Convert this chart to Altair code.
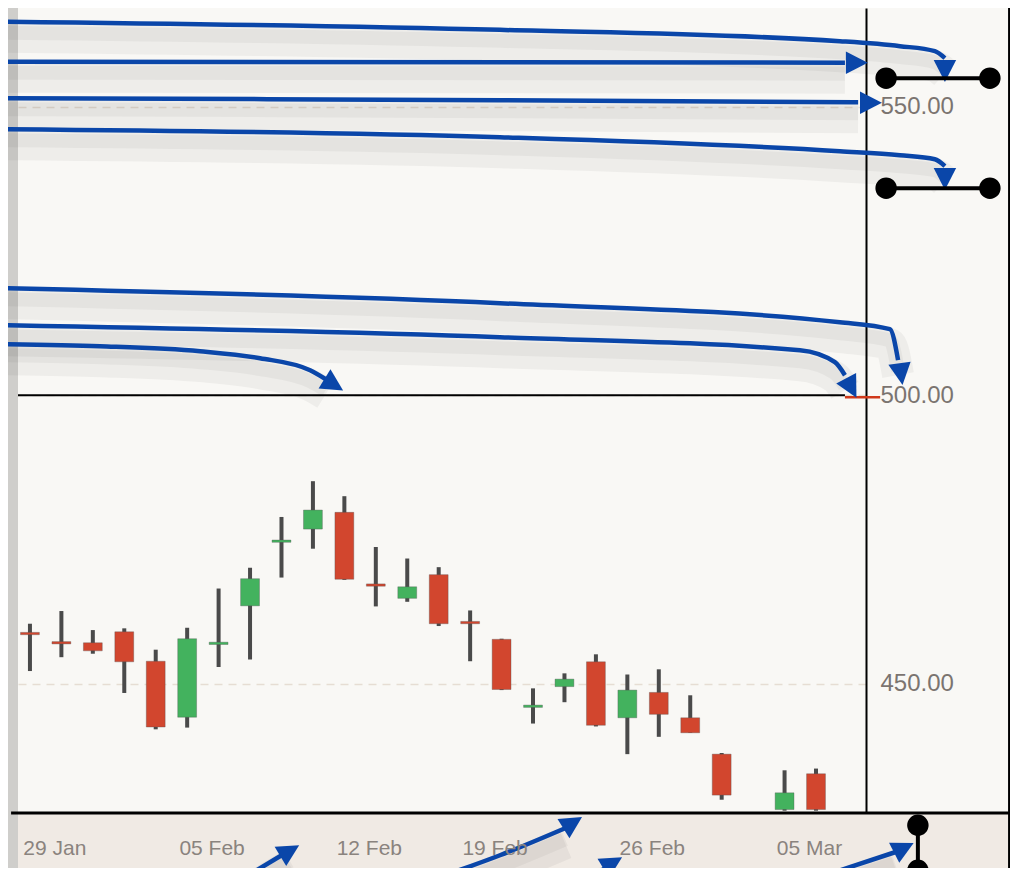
import altair as alt
import pandas as pd

# ---------------- data ----------------
days = ["26 Jan", "29 Jan", "30 Jan", "31 Jan", "01 Feb", "02 Feb", "05 Feb", "06 Feb",
        "07 Feb", "08 Feb", "09 Feb", "12 Feb", "13 Feb", "14 Feb", "15 Feb", "19 Feb",
        "20 Feb", "21 Feb", "22 Feb", "23 Feb", "26 Feb", "27 Feb", "28 Feb", "01 Mar",
        "02 Mar", "05 Mar"]
opens = [458.9, 457.3, 457.1, 459.0, 453.9, 444.2, 456.8, 463.5, 474.5, 476.8, 479.7, 467.3,
         464.8, 468.9, 460.8, 457.7, 445.9, 449.5, 453.8, 444.1, 448.5, 444.1, 437.8, None,
         428.2, 434.4]
closes = [458.5, 456.9, 455.7, 453.8, 442.5, 457.8, 457.2, 468.2, 474.9, 480.1, 468.1, 466.9,
          466.8, 460.4, 460.4, 449.0, 446.3, 450.8, 442.8, 448.9, 444.7, 441.5, 430.7, None,
          431.1, 428.2]
highs = [460.4, 462.6, 459.3, 459.6, 455.9, 459.7, 466.5, 470.1, 478.9, 485.1, 482.5, 473.7,
         471.7, 470.2, 462.7, 457.8, 449.2, 451.8, 455.1, 451.6, 452.5, 448.0, 438.0, None,
         435.0, 435.3]
lows = [452.2, 454.6, 455.2, 448.4, 442.1, 442.4, 452.9, 454.2, 468.4, 473.4, 468.0, 463.4,
        464.2, 460.0, 453.9, 448.9, 443.1, 446.8, 442.6, 437.8, 440.8, 441.5, 429.9, None,
        428.0, 428.0]

label_days = ["29 Jan", "05 Feb", "12 Feb", "19 Feb", "26 Feb", "05 Mar"]
price_ticks = [450, 500, 550]
ref_price = 500

# annotation arrows (trading-day index, price)
path_id = ["A"] * 6 + ["B"] * 2 + ["C"] * 3 + ["D"] * 6 + ["E"] * 5 + ["F"] * 5 + ["G"] * 6 + \
          ["H"] * 2 + ["I"] * 3 + ["J"] * 2 + ["K"] * 2
path_x = [-0.70, 14.95, 25.76, 27.67, 28.78, 29.10,
          -0.70, 25.92,
          -0.70, 14.95, 26.34,
          -0.70, 14.95, 25.76, 27.67, 28.78, 29.10,
          -0.70, 14.95, 25.76, 27.35, 27.61,
          -0.70, 14.95, 24.49, 25.60, 25.92,
          -0.70, 2.23, 5.41, 7.32, 8.91, 9.41,
          6.68, 8.27,
          12.72, 14.95, 17.02,
          17.65, 18.45,
          24.81, 27.51]
path_y = [564.73, 563.31, 561.35, 560.49, 559.62, 558.41,
          557.80, 557.63,
          551.47, 551.13, 550.78,
          546.10, 544.71, 542.29, 541.59, 540.90, 539.69,
          518.54, 515.94, 512.65, 511.44, 506.07,
          512.13, 510.05, 507.80, 505.72, 503.47,
          508.84, 508.49, 507.63, 506.41, 504.33, 502.77,
          415.94, 421.14,
          415.94, 420.28, 424.96,
          415.94, 418.54,
          415.94, 420.80]
head_x = [29.10, 26.27, 26.72, 29.10, 27.70, 26.11, 9.64, 8.24, 17.24, 18.51, 27.77]
head_y = [556.33, 557.63, 550.69, 537.61, 503.81, 501.39, 501.91, 420.97, 425.82, 418.89, 421.49]
head_angle = [180, 90, 90, 180, 172, 152, 122, 59, 58, 59, 63]

# dumbbell markers
bell_x1 = [27.23, 27.23, 28.24]
bell_x2 = [30.53, 30.53, 28.24]
bell_y1 = [554.94, 535.88, 425.48]
bell_y2 = [554.94, 535.88, 417.68]

# ---------------- tables ----------------
df = pd.DataFrame({"i": list(range(len(days))), "day": days, "open": opens,
                   "close": closes, "high": highs, "low": lows}).dropna()
df["dir"] = ["up" if c >= o else "down" for o, c in zip(df["open"], df["close"])]

paths = pd.DataFrame({"id": path_id, "x": path_x, "y": path_y})
paths["order"] = list(range(len(paths)))
heads = pd.DataFrame({"x": head_x, "y": head_y, "angle": head_angle})
bells = pd.DataFrame({"x": bell_x1, "x2": bell_x2, "y": bell_y1, "y2": bell_y2})
ends = pd.concat([pd.DataFrame({"x": bell_x1, "y": bell_y1}),
                  pd.DataFrame({"x": bell_x2, "y": bell_y2})])

X_DOM = [-0.38, 26.59]
Y_DOM = [427.6, 567.1]
label_idx = [days.index(d) for d in label_days]
label_expr = "[" + ",".join("'%s'" % d for d in days) + "][datum.value]"

xscale = alt.Scale(domain=X_DOM, nice=False, zero=False)
yscale = alt.Scale(domain=Y_DOM, nice=False, zero=False)
xaxis = alt.Axis(values=label_idx, labelExpr=label_expr, title=None, domain=False, ticks=False,
                 grid=False, labelFontSize=21, labelColor="#8a837e", labelFont="Liberation Sans",
                 labelBaseline="middle", labelPadding=35, labelOffset=-7, zindex=1)
yaxis = alt.Axis(orient="right", values=price_ticks, format=".2f", title=None, ticks=False,
                 domainColor="#000000", domainWidth=2, labelFontSize=24, labelColor="#7b7470",
                 labelFont="Liberation Sans", labelPadding=14, grid=True, gridColor="#e6ddd3",
                 gridDash=[8, 6], gridWidth=1.5, zindex=0)


def X(f):
    return alt.X(f, type="quantitative", scale=xscale, axis=xaxis)


def Y(f):
    return alt.Y(f, type="quantitative", scale=yscale, axis=yaxis)


frame = pd.DataFrame({"x": [-0.70], "x2": [31.2], "y": [Y_DOM[0]], "y2": [412.0]})
band = alt.Chart(frame).mark_rect(color="#f0eae4", clip=False).encode(
    x=X("x"), x2="x2", y=Y("y"), y2="y2")
strip = alt.Chart(pd.DataFrame({"x": [-0.70], "x2": [X_DOM[0]], "y": [Y_DOM[1]], "y2": [412.0]})
                  ).mark_rect(color="#cfcecb", clip=False).encode(x=X("x"), x2="x2", y=Y("y"), y2="y2")

shadow_wide = alt.Chart(paths).mark_line(color="#000000", opacity=0.045, strokeWidth=32,
                                         interpolate="monotone", yOffset=15, clip=False).encode(
    x=X("x"), y=Y("y"), detail="id:N", order="order:Q")
shadow_core = alt.Chart(paths).mark_line(color="#000000", opacity=0.04, strokeWidth=14,
                                         interpolate="monotone", yOffset=11, clip=False).encode(
    x=X("x"), y=Y("y"), detail="id:N", order="order:Q")

ref = pd.DataFrame({"x": [X_DOM[0]], "x2": [25.92], "y": [ref_price]})
ref_rule = alt.Chart(ref).mark_rule(color="#000000", strokeWidth=2).encode(
    x=X("x"), x2="x2", y=Y("y"))
ref_tail = alt.Chart(pd.DataFrame({"x": [25.92], "x2": [27.04], "y": [ref_price - 0.35]})
                     ).mark_rule(color="#d0391b", strokeWidth=2.5, clip=False).encode(
    x=X("x"), x2="x2", y=Y("y"))

base = alt.Chart(df)
wicks = base.mark_rule(color="#4a4a4a", strokeWidth=4).encode(x=X("i"), y=Y("low"), y2="high")
bodies = base.transform_calculate(xl="datum.i - 0.3", xr="datum.i + 0.3").mark_rect(
    stroke="#555555", strokeWidth=0.8, strokeOpacity=0.45).encode(
    x=X("xl"), x2="xr", y=Y("open"), y2="close",
    color=alt.Color("dir:N", scale=alt.Scale(domain=["up", "down"], range=["#43b25e", "#d2462e"]),
                    legend=None))

arrows = alt.Chart(paths).mark_line(color="#0a46a9", strokeWidth=4.5, interpolate="monotone",
                                    clip=False).encode(
    x=X("x"), y=Y("y"), detail="id:N", order="order:Q")
arrowheads = alt.Chart(heads).mark_point(shape="M0,-1L0.95,0.85L-0.95,0.85Z", filled=True,
                                         size=560, opacity=1, color="#0a46a9", clip=False).encode(
    x=X("x"), y=Y("y"), angle=alt.Angle("angle:Q", scale=None))

bell_lines = alt.Chart(bells).mark_rule(color="#000000", strokeWidth=4, clip=False).encode(
    x=X("x"), x2="x2", y=Y("y"), y2="y2")
bell_ends = alt.Chart(ends).mark_point(shape="circle", filled=True, size=460, opacity=1,
                                       color="#000000", clip=False).encode(x=X("x"), y=Y("y"))

bottom_line = alt.Chart(pd.DataFrame({"x": [-0.60], "x2": [31.2], "y": [Y_DOM[0]]})).mark_rule(
    color="#000000", strokeWidth=3, clip=False).encode(x=X("x"), x2="x2", y=Y("y"))
right_line = alt.Chart(pd.DataFrame({"x": [31.14], "y": [Y_DOM[1]], "y2": [412.0]})).mark_rule(
    color="#000000", strokeWidth=2, clip=False).encode(x=X("x"), y=Y("y"), y2="y2")

chart = alt.layer(
    band, strip, shadow_wide, shadow_core, ref_rule, ref_tail, wicks, bodies, arrows, arrowheads,
    bell_lines, bell_ends, bottom_line, right_line
).properties(
    width=848, height=805,
    autosize=alt.AutoSizeParams(type="none"),
    padding={"left": 10, "top": 0, "right": 144, "bottom": 55},
    background="#f9f8f5",
).configure_view(stroke=None, fill="#f9f8f5")

chart.save("out.html", embed_options={"renderer": "svg", "actions": False})
